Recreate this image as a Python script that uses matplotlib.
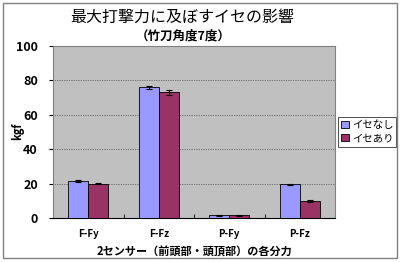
import matplotlib
matplotlib.use('Agg')
import matplotlib.pyplot as plt
import numpy as np
from matplotlib.patches import Rectangle

plt.rcParams['font.family'] = ['Noto Sans CJK JP', 'DejaVu Sans']

categories = ['F-Fy', 'F-Fz', 'P-Fy', 'P-Fz']
series_names = ['イセなし', 'イセあり']
without_ise = [21.5, 76.0, 1.5, 19.5]
with_ise = [20.0, 73.0, 1.5, 10.0]
err_without = [0.5, 0.8, 0.2, 0.5]
err_with = [0.5, 1.5, 0.2, 0.7]
yticks = [0, 20, 40, 60, 80, 100]

fig = plt.figure(figsize=(4.0, 2.62), dpi=100)
fig.patches.append(Rectangle((0.008, 0.015), 0.984, 0.975, transform=fig.transFigure,
                             fill=False, edgecolor='#808080', linewidth=1.0))

ax = fig.add_axes([0.1325, 0.168, 0.705, 0.657])
ax.set_facecolor('#C0C0C0')

x = np.arange(len(categories))
w = 0.285
ekw = dict(elinewidth=0.8, capthick=0.8)
ax.bar(x - w / 2, without_ise, w, color='#9999FF', edgecolor='black', linewidth=0.6,
       yerr=err_without, capsize=2, error_kw=ekw, label=series_names[0], zorder=3)
ax.bar(x + w / 2, with_ise, w, color='#993366', edgecolor='black', linewidth=0.6,
       yerr=err_with, capsize=2, error_kw=ekw, label=series_names[1], zorder=3)

ax.set_xlim(-0.5, len(categories) - 0.5)
ax.set_ylim(0, 100)
ax.set_yticks(yticks)
ax.yaxis.grid(True, linestyle=(0, (1, 1.5)), color='#303030', linewidth=0.5, zorder=0)
ax.set_xticks(x)
ax.set_xticklabels(categories)
ax.set_xticks(np.arange(len(categories) + 1) - 0.5, minor=True)
ax.tick_params(axis='x', which='major', length=0, pad=8, labelsize=7)
ax.tick_params(axis='x', which='minor', length=3, direction='in')
ax.tick_params(axis='y', length=3, labelsize=9, pad=8)
for lab in ax.get_xticklabels() + ax.get_yticklabels():
    lab.set_fontweight('bold')
for s in ax.spines.values():
    s.set_color('#808080')
    s.set_linewidth(0.8)
ax.spines['bottom'].set_color('black')

fig.text(0.043, 0.50, 'kgf', rotation=90, ha='center', va='center',
         fontsize=8, fontweight='bold')
ax.set_xlabel('2センサー（前頭部・頭頂部）の各分力', fontsize=8, fontweight='bold', labelpad=5)

fig.text(0.455, 0.932, '最大打撃力に及ぼすイセの影響', ha='center', va='center', fontsize=11.5)
fig.text(0.457, 0.862, '（竹刀角度7度）', ha='center', va='center', fontsize=9, fontweight='bold')

leg = ax.legend(loc='center left', bbox_to_anchor=(1.0, 0.5), fontsize=7.5,
                frameon=True, fancybox=False, edgecolor='black', handlelength=0.7,
                handleheight=0.7, handletextpad=0.3, borderpad=0.3, labelspacing=0.3,
                borderaxespad=0.3)
leg.get_frame().set_linewidth(0.6)

fig.savefig('out.png', dpi=100)
